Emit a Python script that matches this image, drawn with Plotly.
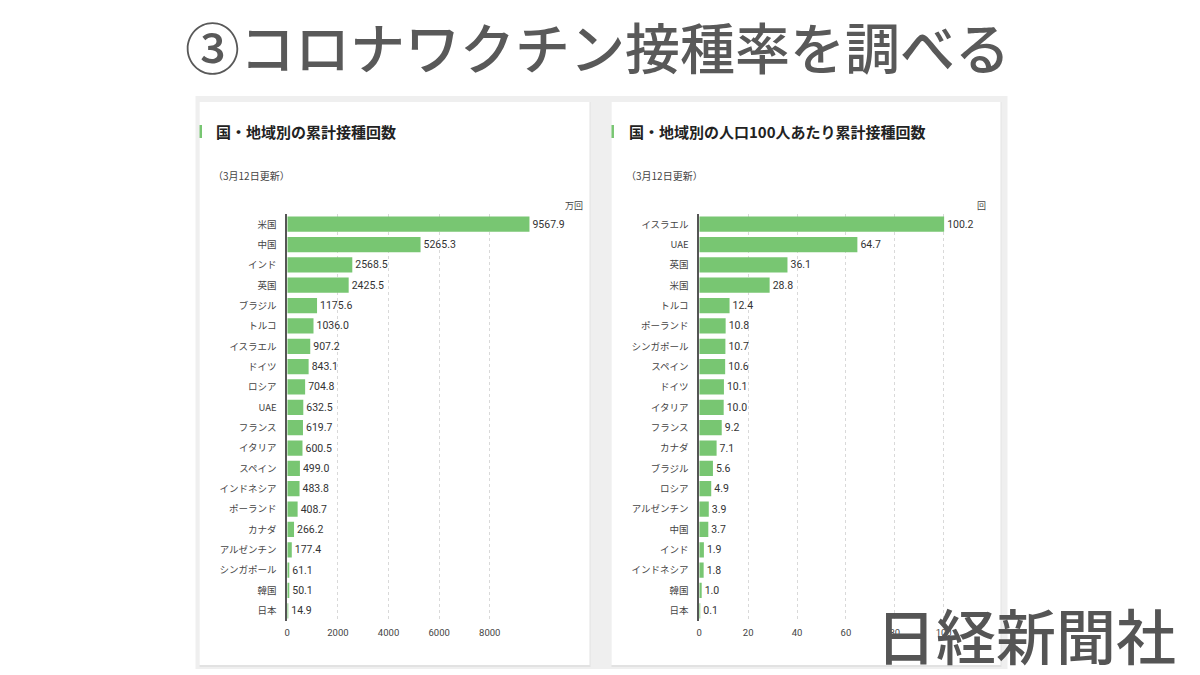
import plotly.graph_objects as go

# ---- data ----
left_categories = ["米国", "中国", "インド", "英国", "ブラジル", "トルコ", "イスラエル", "ドイツ", "ロシア", "UAE",
                   "フランス", "イタリア", "スペイン", "インドネシア", "ポーランド", "カナダ", "アルゼンチン",
                   "シンガポール", "韓国", "日本"]
left_values = [9567.9, 5265.3, 2568.5, 2425.5, 1175.6, 1036.0, 907.2, 843.1, 704.8, 632.5,
               619.7, 600.5, 499.0, 483.8, 408.7, 266.2, 177.4, 61.1, 50.1, 14.9]
left_ticks = [0, 2000, 4000, 6000, 8000]

right_categories = ["イスラエル", "UAE", "英国", "米国", "トルコ", "ポーランド", "シンガポール", "スペイン", "ドイツ",
                    "イタリア", "フランス", "カナダ", "ブラジル", "ロシア", "アルゼンチン", "中国", "インド",
                    "インドネシア", "韓国", "日本"]
right_values = [100.2, 64.7, 36.1, 28.8, 12.4, 10.8, 10.7, 10.6, 10.1, 10.0,
                9.2, 7.1, 5.6, 4.9, 3.9, 3.7, 1.9, 1.8, 1.0, 0.1]
right_ticks = [0, 20, 40, 60, 80, 100]

W, H = 1200, 675
JP = "Noto Sans CJK JP"
GREEN = "#78c672"


def px(x):
    return x / W


def py(y):
    return 1 - y / H


fig = go.Figure()

fig.add_trace(go.Bar(
    x=left_values, y=left_categories, orientation="h",
    marker=dict(color=GREEN, line=dict(width=0)),
    text=[f"{v:.1f}" for v in left_values], textposition="outside",
    textfont=dict(family="Roboto", size=10.5, color="#333"),
    cliponaxis=False, xaxis="x", yaxis="y", hoverinfo="skip",
))
fig.add_trace(go.Bar(
    x=right_values, y=right_categories, orientation="h",
    marker=dict(color=GREEN, line=dict(width=0)),
    text=[f"{v:.1f}" for v in right_values], textposition="outside",
    textfont=dict(family="Roboto", size=10.5, color="#333"),
    cliponaxis=False, xaxis="x2", yaxis="y2", hoverinfo="skip",
))

y_dom = [py(621), py(214)]
common_x = dict(showgrid=True, gridcolor="#d9d9d9", griddash="dot", gridwidth=1,
                zeroline=False, showline=False, ticks="", fixedrange=True, ticklabelstandoff=4,
                tickfont=dict(family="Roboto", size=9.5, color="#444"))
common_y = dict(autorange="reversed", showline=True, linecolor="#555", linewidth=1.5,
                ticks="", showgrid=False, ticklabelstandoff=7, fixedrange=True,
                tickfont=dict(family=JP, size=9.5, color="#444"), type="category")

fig.update_layout(
    width=W, height=H, margin=dict(l=0, r=0, t=0, b=0),
    paper_bgcolor="white", plot_bgcolor="rgba(0,0,0,0)",
    showlegend=False, bargap=0.25,
    xaxis=dict(domain=[px(285), px(285 + 10000 * 50.75 / 2000)], range=[0, 10000],
               tickvals=left_ticks, anchor="y", **common_x),
    yaxis=dict(domain=y_dom, anchor="x", **common_y),
    xaxis2=dict(domain=[px(698), px(698 + 105 * 2.45)], range=[0, 105],
                tickvals=right_ticks, anchor="y2", **common_x),
    yaxis2=dict(domain=y_dom, anchor="x2", **common_y),
)

shapes = [
    # gray panel background
    dict(type="rect", xref="paper", yref="paper", x0=px(193), x1=px(1007), y0=py(669), y1=py(96),
         fillcolor="#efefef", line=dict(width=0), layer="below"),
    # card shadows
    dict(type="rect", xref="paper", yref="paper", x0=px(197), x1=px(589), y0=py(667), y1=py(102),
         fillcolor="#e2e2e2", line=dict(width=0), layer="below"),
    dict(type="rect", xref="paper", yref="paper", x0=px(610), x1=px(1001), y0=py(667), y1=py(102),
         fillcolor="#e2e2e2", line=dict(width=0), layer="below"),
    # cards
    dict(type="rect", xref="paper", yref="paper", x0=px(197), x1=px(588), y0=py(665), y1=py(102),
         fillcolor="white", line=dict(width=0), layer="below"),
    dict(type="rect", xref="paper", yref="paper", x0=px(610), x1=px(1000), y0=py(665), y1=py(102),
         fillcolor="white", line=dict(width=0), layer="below"),
    # green accent marks
    dict(type="rect", xref="paper", yref="paper", x0=px(197), x1=px(199.5), y0=py(138), y1=py(125),
         fillcolor=GREEN, line=dict(width=0)),
    dict(type="rect", xref="paper", yref="paper", x0=px(610), x1=px(612.5), y0=py(138), y1=py(125),
         fillcolor=GREEN, line=dict(width=0)),
]
fig.update_layout(shapes=shapes)

annotations = [
    dict(text="③コロナワクチン接種率を調べる", x=px(596), y=py(45), xanchor="center", yanchor="middle",
         font=dict(family=JP, size=55, color="#595959", weight=500)),
    dict(text="<b>国・地域別の累計接種回数</b>", x=px(212), y=py(131), xanchor="left", yanchor="middle",
         font=dict(family=JP, size=15, color="#222")),
    dict(text="<b>国・地域別の人口100人あたり累計接種回数</b>", x=px(626), y=py(131), xanchor="left", yanchor="middle",
         font=dict(family=JP, size=15, color="#222")),
    dict(text="（3月12日更新）", x=px(209), y=py(176), xanchor="left", yanchor="middle",
         font=dict(family=JP, size=10, color="#444")),
    dict(text="（3月12日更新）", x=px(623), y=py(176), xanchor="left", yanchor="middle",
         font=dict(family=JP, size=10, color="#444")),
    dict(text="万回", x=px(572), y=py(205), xanchor="center", yanchor="middle",
         font=dict(family=JP, size=9, color="#444")),
    dict(text="回", x=px(981), y=py(205), xanchor="center", yanchor="middle",
         font=dict(family=JP, size=9, color="#444")),
    dict(text="日経新聞社", x=px(1178), y=py(633), xanchor="right", yanchor="middle",
         font=dict(family=JP, size=60, color="#555555", weight=500)),
]
for a in annotations:
    a.update(xref="paper", yref="paper", showarrow=False)
fig.update_layout(annotations=annotations)

fig.write_html("out.html", config={"displayModeBar": False},
               post_script="document.body.style.margin='0';document.body.style.padding='0';")
